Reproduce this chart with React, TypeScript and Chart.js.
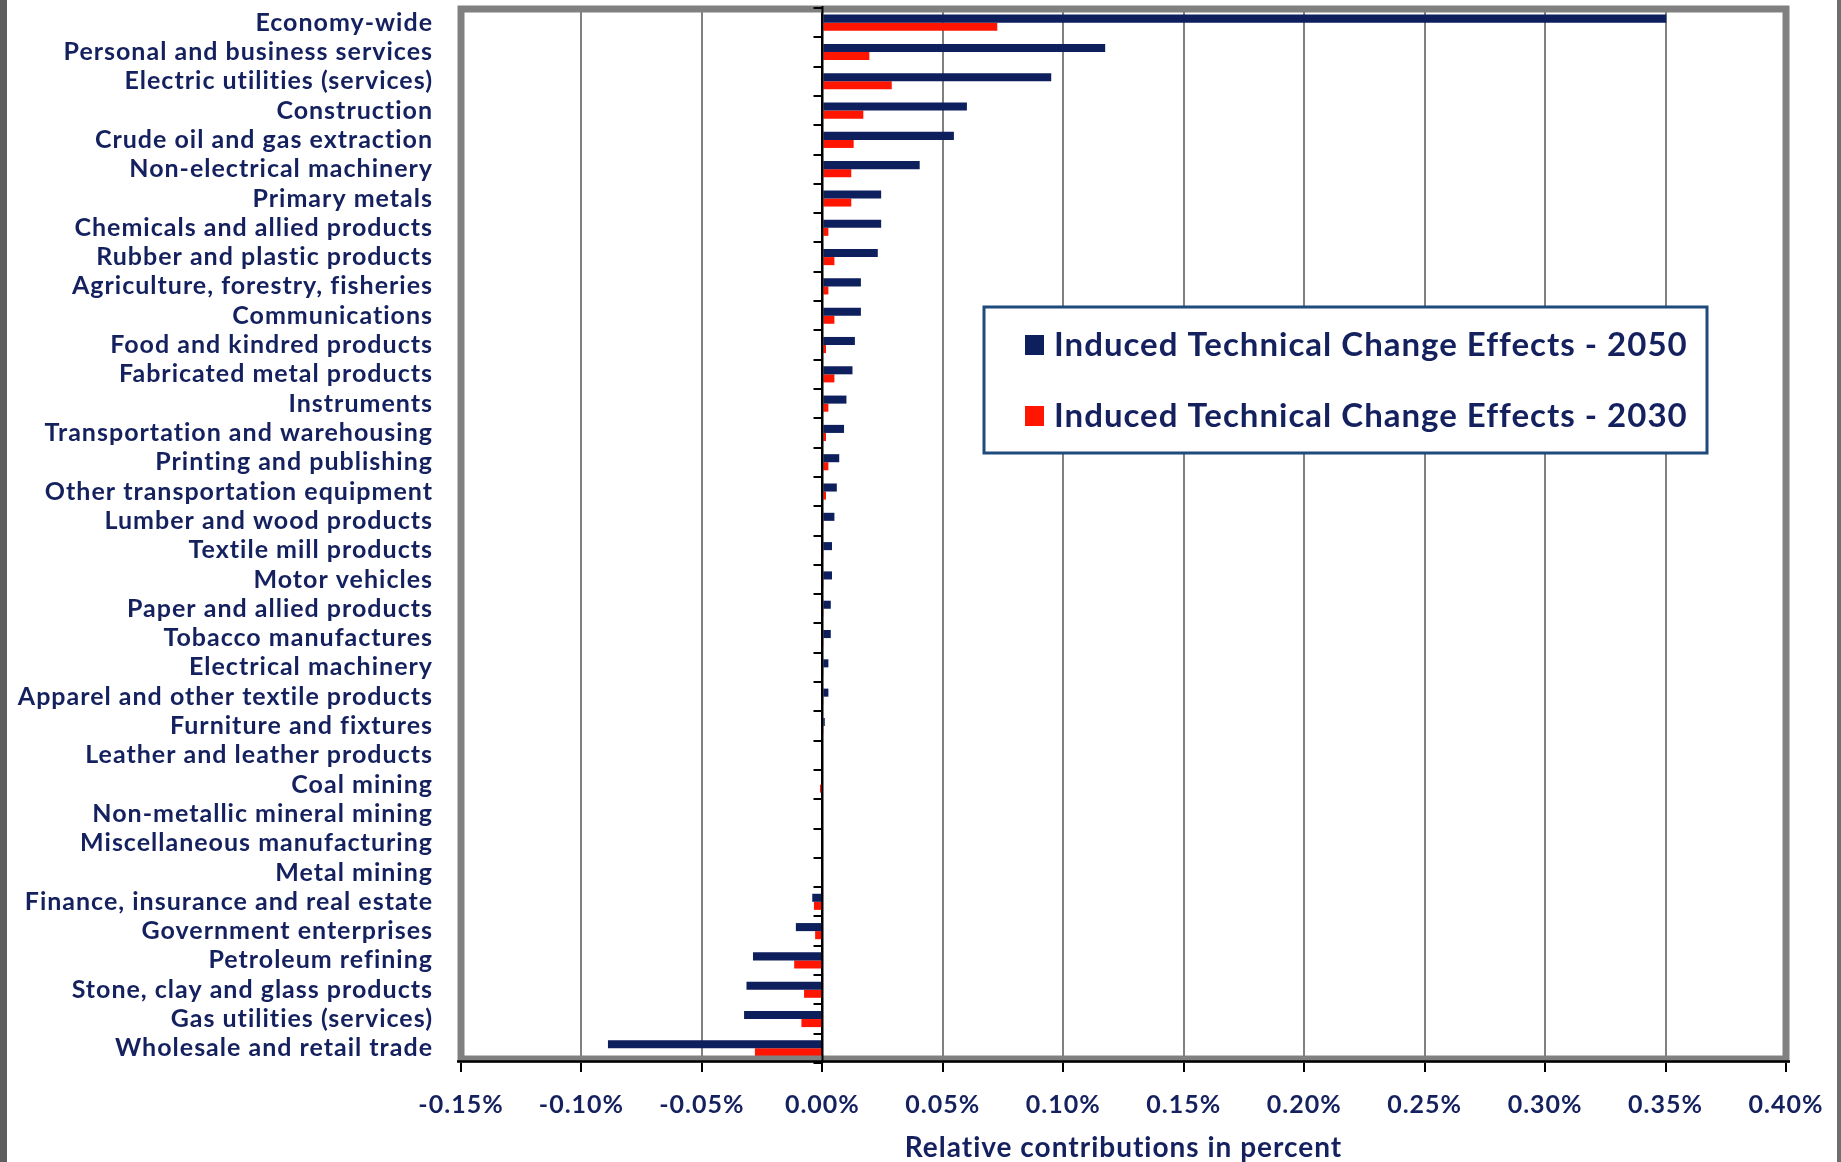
import React, { useEffect, useRef } from 'react';
import { Chart, registerables } from 'chart.js';

Chart.register(...registerables);

const categories = [
  'Economy-wide',
  'Personal and business services',
  'Electric utilities (services)',
  'Construction',
  'Crude oil and gas extraction',
  'Non-electrical machinery',
  'Primary metals',
  'Chemicals and allied products',
  'Rubber and plastic products',
  'Agriculture, forestry, fisheries',
  'Communications',
  'Food and kindred products',
  'Fabricated metal products',
  'Instruments',
  'Transportation and warehousing',
  'Printing and publishing',
  'Other transportation equipment',
  'Lumber and wood products',
  'Textile mill products',
  'Motor vehicles',
  'Paper and allied products',
  'Tobacco manufactures',
  'Electrical machinery',
  'Apparel and other textile products',
  'Furniture and fixtures',
  'Leather and leather products',
  'Coal mining',
  'Non-metallic mineral mining',
  'Miscellaneous manufacturing',
  'Metal mining',
  'Finance, insurance and real estate',
  'Government enterprises',
  'Petroleum refining',
  'Stone, clay and glass products',
  'Gas utilities (services)',
  'Wholesale and retail trade',
];

const effects2050 = [
  0.3503, 0.1174, 0.095, 0.06, 0.0546, 0.0404, 0.0244, 0.0244, 0.023, 0.016,
  0.016, 0.0135, 0.0125, 0.01, 0.009, 0.007, 0.006, 0.005, 0.004, 0.004,
  0.0035, 0.0035, 0.0025, 0.0025, 0.001, 0.0, 0.0, 0.0, -0.0005, -0.0005,
  -0.0042, -0.011, -0.0288, -0.0315, -0.0325, -0.089,
];

const effects2030 = [
  0.0726, 0.0195, 0.0288, 0.017, 0.013, 0.012, 0.012, 0.0025, 0.005, 0.0025,
  0.005, 0.0015, 0.005, 0.0025, 0.0015, 0.0025, 0.0015, 0.0005, 0.0005, 0.0005,
  0.0005, 0.0005, 0.0005, 0.0005, 0.0005, 0.0, -0.001, 0.0, 0.0, 0.0,
  -0.0035, -0.003, -0.0117, -0.0076, -0.0087, -0.028,
];

const seriesLabels = [
  'Induced Technical Change Effects - 2050',
  'Induced Technical Change Effects - 2030',
];
const seriesColors = ['#0E1F5E', '#FF1500'];

const xMin = -0.15;
const xMax = 0.4;
const xStep = 0.05;
const xTitle = 'Relative contributions in percent';

const TEXT = '#14215E';
const FONT = 'Lato, "Liberation Sans", Arial, sans-serif';

const W = 1841;
const H = 1162;

const decorPlugin = {
  id: 'decor',
  beforeDraw(chart: any) {
    const { ctx, width, height } = chart;
    ctx.letterSpacing = '1px';
    ctx.save();
    ctx.fillStyle = '#ffffff';
    ctx.fillRect(0, 0, width, height);
    ctx.fillStyle = '#5e5e5e';
    ctx.fillRect(0, 0, 7, height);
    ctx.fillStyle = '#6e6e6e';
    ctx.fillRect(width - 4, 0, 4, height);
    ctx.restore();
  },
  afterDatasetsDraw(chart: any) {
    const { ctx, chartArea } = chart;
    const xs = chart.scales.x;
    const ys = chart.scales.y;
    const { left, right, top, bottom } = chartArea;
    ctx.save();
    // gray plot frame
    ctx.strokeStyle = '#808080';
    ctx.lineWidth = 7;
    ctx.strokeRect(left, top + 1, right - left, bottom - top - 5);
    // bottom black axis line
    ctx.strokeStyle = '#000000';
    ctx.lineWidth = 2.5;
    ctx.beginPath();
    ctx.moveTo(left - 4, bottom - 1.5);
    ctx.lineTo(right + 4, bottom - 1.5);
    ctx.stroke();
    // zero axis with category tick marks
    const x0 = Math.round(xs.getPixelForValue(0)) + 0.5;
    ctx.lineWidth = 2;
    ctx.beginPath();
    ctx.moveTo(x0, top - 2);
    ctx.lineTo(x0, bottom);
    ctx.stroke();
    const n = categories.length;
    ctx.beginPath();
    for (let i = 0; i <= n; i++) {
      const y = Math.round(ys.getPixelForValue(i - 0.5));
      ctx.moveTo(x0, y);
      ctx.lineTo(x0 - 9, y);
    }
    ctx.stroke();

    // legend box
    const bx = 984, by = 307, bw = 723, bh = 146;
    ctx.fillStyle = '#ffffff';
    ctx.fillRect(bx, by, bw, bh);
    ctx.strokeStyle = '#1F4A7C';
    ctx.lineWidth = 3;
    ctx.strokeRect(bx, by, bw, bh);
    ctx.font = `bold 33px ${FONT}`;
    ctx.textBaseline = 'middle';
    ctx.textAlign = 'left';
    chart.data.datasets.forEach((ds: any, i: number) => {
      const cy = 345 + i * 71;
      ctx.fillStyle = ds.backgroundColor;
      ctx.fillRect(1025, cy - 10, 19, 20);
      ctx.fillStyle = TEXT;
      ctx.fillText(ds.label, 1054, cy);
    });
    ctx.restore();
  },
};

export default function App() {
  const ref = useRef<HTMLCanvasElement | null>(null);

  useEffect(() => {
    document.body.style.margin = '0';
    const canvas = ref.current;
    if (!canvas) return;
    Chart.defaults.font.family = FONT;
    const chart = new Chart(canvas, {
      type: 'bar',
      data: {
        labels: categories,
        datasets: [
          {
            label: seriesLabels[0],
            data: effects2050,
            backgroundColor: seriesColors[0],
            borderWidth: 0,
            categoryPercentage: 0.55,
            barPercentage: 1.0,
          },
          {
            label: seriesLabels[1],
            data: effects2030,
            backgroundColor: seriesColors[1],
            borderWidth: 0,
            categoryPercentage: 0.55,
            barPercentage: 1.0,
          },
        ],
      },
      options: {
        indexAxis: 'y',
        responsive: false,
        animation: false,
        devicePixelRatio: 1,
        layout: { padding: { top: 8, right: 55, left: 0, bottom: 0 } },
        plugins: {
          legend: { display: false },
          tooltip: { enabled: false },
          title: { display: false },
        },
        scales: {
          x: {
            type: 'linear',
            min: xMin,
            max: xMax,
            ticks: {
              stepSize: xStep,
              color: TEXT,
              font: { size: 25, weight: 'bold', family: FONT },
              padding: 18,
              callback: (v: any) => {
                const num = Number(v);
                const s = Math.abs(num) < 1e-9 ? '0.00' : num.toFixed(2);
                return `${s}%`;
              },
            },
            grid: {
              color: (c: any) => (c.tick && Math.abs(c.tick.value) < 1e-9 ? '#000000' : '#808080'),
              lineWidth: 2,
              drawTicks: true,
              tickLength: 9,
              tickColor: '#000000',
              tickWidth: 2,
            },
            border: { display: false },
            title: {
              display: true,
              text: xTitle,
              color: TEXT,
              font: { size: 28, weight: 'bold', family: FONT, lineHeight: 1.0 },
              padding: { top: 0, bottom: 0 },
            },
            afterFit: (scale: any) => {
              scale.height = 99;
            },
          },
          y: {
            type: 'category',
            ticks: {
              color: TEXT,
              font: { size: 25, weight: 'bold', family: FONT, lineHeight: 0.6 },
              padding: 0,
              autoSkip: false,
            },
            grid: { display: false, drawTicks: true, tickLength: 28 },
            border: { display: false },
            afterFit: (scale: any) => {
              scale.width = 461;
            },
          },
        },
      },
      plugins: [decorPlugin],
    } as any);
    return () => chart.destroy();
  }, []);

  return (
    <div style={{ position: 'absolute', left: 0, top: 0, width: W, height: H }}>
      <canvas ref={ref} width={W} height={H} style={{ display: 'block', width: W, height: H }} />
    </div>
  );
}
